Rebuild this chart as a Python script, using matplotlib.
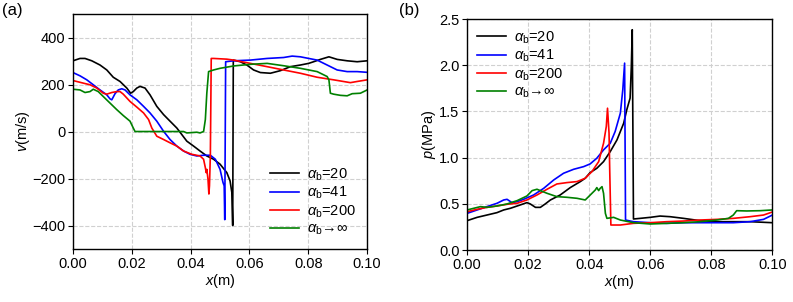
import matplotlib
matplotlib.use('Agg')
import matplotlib.pyplot as plt
import numpy as np

plt.rcParams['font.family'] = ['Liberation Sans', 'DejaVu Sans']
plt.rcParams['mathtext.fontset'] = 'custom'
plt.rcParams['mathtext.rm'] = 'Liberation Sans'
plt.rcParams['mathtext.it'] = 'Liberation Sans:italic'
plt.rcParams['font.size'] = 10.5

labels = [r'$\alpha_{\rm b}$=20', r'$\alpha_{\rm b}$=41', r'$\alpha_{\rm b}$=200', r'$\alpha_{\rm b}\!\rightarrow\!\infty$']
colors = ['black', 'blue', 'red', 'green']

########### (a) velocity, x in mm ###########
xv_20 = [0, 2.4, 4.1, 6.4, 9.2, 11.5, 13.7, 16, 18.3, 19.6, 20.5, 21.7, 22.8, 24.5, 26.2, 28.5, 30.8, 33, 35.3,
         37, 38.7, 41, 43.2, 45.5, 47.8, 50, 52.3, 53.4, 54, 54.3, 54.5, 56.9, 59.1, 61.4, 63.7, 67.1, 70.5,
         73.9, 77.3, 80.1, 81.8, 84.1, 87, 89.8, 93.2, 96.6, 100]
v_20 = [301, 311, 311, 301, 283, 262, 231, 213, 185, 163, 170, 185, 192, 185, 156, 107, 72, 44, 15,
        -13, -41, -62, -83, -104, -118, -139, -175, -210, -259, -400, 304, 297, 283, 262, 251, 248, 259,
        276, 283, 290, 297, 307, 318, 307, 301, 297, 301]

xv_41 = [0, 2.4, 4.7, 6.9, 9.2, 11.5, 12.6, 13.2, 14.3, 15.4, 16.6, 17.7, 19.4, 21.7, 24, 26.2, 28.5, 30.8,
         33, 35.3, 37.6, 39.8, 42.1, 44.4, 46.7, 48.4, 50, 51, 51.4, 51.6, 51.9, 54.6, 60.3, 66, 71.6, 74.5,
         77.3, 83, 86.4, 89.8, 93.2, 96.6, 100]
v_41 = [251, 237, 220, 199, 177, 156, 139, 135, 161, 177, 182, 177, 156, 135, 107, 79, 44, 1,
        -34, -62, -83, -97, -104, -101, -101, -118, -161, -217, -231, -375, 297, 301, 304, 311, 315, 321,
        318, 304, 283, 262, 255, 255, 252]

xv_200 = [0, 3.5, 5.8, 8.1, 10.3, 11.5, 13.2, 14.9, 16, 17.1, 19.4, 21.7, 24, 25.7, 26.8, 28.5, 30.8, 33,
          35.3, 37.6, 40.4, 43.2, 44.4, 45, 45.3, 45.5, 45.9, 46.2, 46.4, 46.7, 47, 47.8, 52.3, 54.6, 60.3,
          66, 71.6, 77.3, 83, 88.6, 94.3, 96.6, 100]
v_200 = [217, 206, 199, 185, 163, 159, 166, 170, 170, 159, 128, 104, 79, 51, 15, -20, -34, -48,
         -62, -83, -97, -104, -118, -154, -175, -161, -203, -266, -231, -104, 311, 311, 308, 304, 290,
         276, 262, 248, 231, 220, 208, 213, 220]

xv_inf = [0, 2.4, 4.1, 5.8, 6.9, 8.6, 10.3, 12.6, 14.9, 17.1, 19.4, 20.5, 21.1, 26.2, 37.6, 38.7, 42.1,
          43.2, 44.4, 45, 45.5, 46.1, 47.8, 50, 54.6, 60.3, 66, 71.6, 77.3, 83, 86.4, 87, 87.5, 88.6, 90.9,
          93.2, 94.9, 97.7, 100]
v_inf = [180, 177, 166, 170, 180, 170, 149, 121, 93, 68, 44, 15, 0, 0, 0, -6, -3,
         -6, 0, 51, 163, 255, 262, 269, 279, 286, 290, 280, 269, 255, 234, 220, 163, 159, 154,
         152, 161, 163, 177]

########### (b) pressure, x in mm ###########
xp_20 = [0, 3.3, 6.5, 9.8, 12, 14.2, 17.4, 19.6, 20.7, 22.4, 24, 25.6, 27.3, 30.5, 33.8, 37.1, 38.7, 40.3,
         42.5, 44.7, 46.9, 49.1, 51.3, 52.3, 53.4, 53.8, 54.1, 54.5, 56.7, 60, 63.2, 66.5, 70.9, 76.3, 81.8,
         87.2, 92.7, 100]
p_20 = [0.318, 0.354, 0.379, 0.405, 0.434, 0.452, 0.488, 0.513, 0.499, 0.462, 0.462, 0.499, 0.542, 0.596,
        0.676, 0.741, 0.777, 0.838, 0.885, 0.957, 1.066, 1.192, 1.373, 1.517, 1.644, 1.987, 2.384, 0.336,
        0.343, 0.354, 0.368, 0.361, 0.343, 0.318, 0.307, 0.307, 0.307, 0.296]

xp_41 = [0, 3.3, 6.5, 9.8, 12, 13.1, 14.7, 16.4, 18.5, 21.8, 25.1, 28.4, 31.6, 34.9, 38.2, 40.3, 42.5, 44.7,
         46.9, 48.5, 50.2, 51, 51.6, 51.9, 54.5, 60, 65.4, 70.9, 76.3, 81.8, 87.2, 92.7, 97.1, 100]
p_41 = [0.397, 0.434, 0.470, 0.506, 0.542, 0.549, 0.513, 0.524, 0.549, 0.596, 0.668, 0.759, 0.831, 0.874,
        0.903, 0.932, 0.994, 1.084, 1.156, 1.283, 1.481, 1.734, 2.023, 0.325, 0.307, 0.296, 0.289, 0.296,
        0.296, 0.296, 0.296, 0.307, 0.332, 0.379]

xp_200 = [0, 3.3, 6.5, 9.8, 13.1, 16.4, 19.6, 22.9, 26.2, 29.4, 32.7, 36, 38.7, 40.9, 43.1, 44.7, 45.6, 46,
          46.5, 46.7, 47.1, 50.2, 54.5, 60, 65.4, 70.9, 76.3, 81.8, 87.2, 92.7, 97.1, 100]
p_200 = [0.415, 0.441, 0.462, 0.477, 0.495, 0.506, 0.542, 0.596, 0.658, 0.715, 0.730, 0.741, 0.777, 0.849,
         0.957, 1.156, 1.337, 1.535, 1.264, 0.903, 0.271, 0.271, 0.289, 0.296, 0.307, 0.314, 0.325, 0.332,
         0.343, 0.361, 0.379, 0.412]

xp_inf = [0, 2.2, 4.4, 6.5, 9.8, 13.1, 16.4, 19.6, 21.3, 22.9, 24, 26.2, 29.4, 32.7, 36, 38.7, 39.8, 42,
          42.5, 43.1, 43.6, 44.2, 44.7, 45.3, 45.8, 48, 50.2, 54.5, 60, 65.4, 70.9, 76.3, 81.8, 85.6, 87.2,
          88.3, 91.6, 96, 100]
p_inf = [0.434, 0.452, 0.470, 0.462, 0.477, 0.499, 0.535, 0.585, 0.643, 0.658, 0.643, 0.614, 0.578, 0.571,
         0.560, 0.542, 0.578, 0.650, 0.676, 0.643, 0.668, 0.686, 0.614, 0.397, 0.343, 0.354, 0.325, 0.296,
         0.282, 0.289, 0.296, 0.307, 0.325, 0.343, 0.379, 0.426, 0.423, 0.426, 0.434]

fig = plt.figure(figsize=(7.93, 3.02), dpi=100)
ax1 = fig.add_axes([0.092, 0.1755, 0.371, 0.778])
ax2 = fig.add_axes([0.589, 0.172, 0.385, 0.765])

vel = [(xv_20, v_20), (xv_41, v_41), (xv_200, v_200), (xv_inf, v_inf)]
prs = [(xp_20, p_20), (xp_41, p_41), (xp_200, p_200), (xp_inf, p_inf)]

for (xx, yy), c, lab in zip(vel, colors, labels):
    ax1.plot(np.array(xx) / 1000, yy, color=c, lw=1.2, label=lab)
for (xx, yy), c, lab in zip(prs, colors, labels):
    ax2.plot(np.array(xx) / 1000, yy, color=c, lw=1.2, label=lab)

ax1.set_xlim(0, 0.1)
ax1.set_ylim(-500, 500)
ax1.set_yticks([-400, -200, 0, 200, 400])
ax1.set_xticks(np.arange(0, 0.101, 0.02))
ax1.set_xticklabels(['0.00', '0.02', '0.04', '0.06', '0.08', '0.10'])
ax1.set_xlabel(r'$x$(m)', labelpad=1)
ax1.set_ylabel(r'$v$(m/s)', labelpad=0)
ax1.legend(loc='lower right', frameon=False, handlelength=2.0, labelspacing=0.15,
           handletextpad=0.5, borderaxespad=0.4)

ax2.set_xlim(0, 0.1)
ax2.set_ylim(0, 2.5)
ax2.set_yticks([0, 0.5, 1.0, 1.5, 2.0, 2.5])
ax2.set_xticks(np.arange(0, 0.101, 0.02))
ax2.set_xticklabels(['0.00', '0.02', '0.04', '0.06', '0.08', '0.10'])
ax2.set_xlabel(r'$x$(m)', labelpad=1)
ax2.set_ylabel(r'$p$(MPa)', labelpad=1)
ax2.legend(loc='upper left', frameon=False, handlelength=2.0, labelspacing=0.15,
           handletextpad=0.5, borderaxespad=0.3)

for ax in (ax1, ax2):
    ax.grid(True, ls='--', color='#d0d0d0', lw=0.8)
    ax.set_axisbelow(True)
    ax.tick_params(direction='out', length=3.5, width=0.8, pad=2)
    for s in ax.spines.values():
        s.set_linewidth(1.0)

fig.text(0.003, 0.99, '(a)', fontsize=12, va='top', ha='left')
fig.text(0.503, 0.99, '(b)', fontsize=12, va='top', ha='left')

fig.savefig('out.png', dpi=100)
